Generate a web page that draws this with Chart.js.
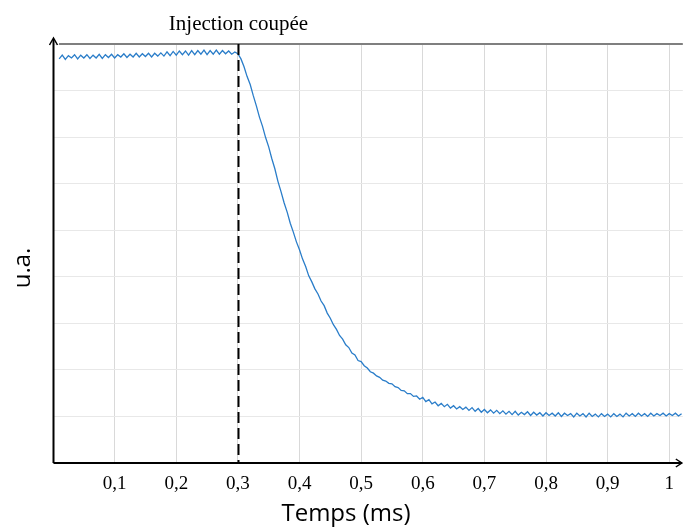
<!DOCTYPE html>
<html>
<head>
<meta charset="utf-8">
<script src="https://cdn.jsdelivr.net/npm/chart.js@4.4.1/dist/chart.umd.min.js"></script>
<style>
    html, body { margin: 0; padding: 0; background: #fff; }
</style>
</head>
<body>
<canvas id="myChart" width="684" height="527"></canvas>
<script>
// signal échantillonné : premier point à t0, un point toutes les dt (ms)
const t0 = 0.01;
const dt = 0.005;

// plateau avant la coupure (0,01 -> 0,30 ms)
const plateau = [
    8.68, 8.76, 8.67, 8.75, 8.70, 8.77, 8.68, 8.76, 8.70, 8.77,
    8.69, 8.76, 8.70, 8.78, 8.69, 8.77, 8.71, 8.78, 8.70, 8.77,
    8.72, 8.79, 8.71, 8.78, 8.72, 8.80, 8.72, 8.79, 8.73, 8.80,
    8.72, 8.80, 8.74, 8.81, 8.74, 8.83, 8.75, 8.84, 8.76, 8.85,
    8.77, 8.85, 8.76, 8.86, 8.77, 8.86, 8.78, 8.87, 8.77, 8.86,
    8.78, 8.87, 8.78, 8.86, 8.79, 8.85, 8.78, 8.83, 8.79
];
// chute (0,305 -> 0,50 ms)
const chute = [
    8.68, 8.51, 8.30, 8.13, 7.89, 7.67, 7.43, 7.23, 6.99, 6.79,
    6.54, 6.32, 6.05, 5.83, 5.59, 5.39, 5.15, 4.96, 4.75, 4.58,
    4.38, 4.22, 4.02, 3.89, 3.74, 3.63, 3.48, 3.38, 3.22, 3.11,
    2.97, 2.87, 2.74, 2.66, 2.54, 2.48, 2.36, 2.32, 2.20, 2.18
];
// fin de la décroissance (0,505 -> 0,70 ms)
const decroissance = [
    2.09, 2.04, 1.96, 1.93, 1.87, 1.84, 1.78, 1.76, 1.71, 1.70,
    1.64, 1.62, 1.56, 1.55, 1.49, 1.49, 1.43, 1.44, 1.37, 1.41,
    1.32, 1.36, 1.27, 1.31, 1.23, 1.28, 1.21, 1.26, 1.18, 1.23,
    1.16, 1.21, 1.15, 1.20, 1.13, 1.19, 1.11, 1.17, 1.09, 1.15
];
// palier final (0,705 -> 1,02 ms)
const palier = [
    1.08, 1.14, 1.07, 1.13, 1.06, 1.12, 1.05, 1.11, 1.04, 1.11,
    1.03, 1.09, 1.04, 1.10, 1.02, 1.09, 1.03, 1.08, 1.01, 1.08,
    1.02, 1.07, 1.01, 1.08, 1.00, 1.07, 1.02, 1.06, 0.99, 1.07,
    1.01, 1.06, 0.99, 1.07, 1.00, 1.05, 0.99, 1.06, 1.00, 1.05,
    0.99, 1.06, 1.00, 1.05, 0.99, 1.07, 1.01, 1.06, 1.00, 1.07,
    1.01, 1.06, 1.00, 1.07, 1.01, 1.06, 1.02, 1.07, 1.01, 1.06,
    1.02, 1.07, 1.01, 1.06
];

const xTickLabels = ['', '0,1', '0,2', '0,3', '0,4', '0,5', '0,6', '0,7', '0,8', '0,9', '1'];
const tCoupure = 0.3;
const xMax = 1.022;
const yMax = 9;

const signal = plateau.concat(chute, decroissance, palier);
const points = signal.map((v, i) => ({ x: +(t0 + i * dt).toFixed(3), y: v }));

// axes fléchés, trait de coupure et textes
const decor = {
    id: 'decor',
    afterDatasetsDraw(chart) {
        const ctx = chart.ctx;
        const area = chart.chartArea;
        const xs = chart.scales.x;
        ctx.save();

        // bord haut gris
        ctx.strokeStyle = '#7f7f7f';
        ctx.lineWidth = 2;
        ctx.beginPath();
        ctx.moveTo(59, area.top);
        ctx.lineTo(area.right, area.top);
        ctx.stroke();

        // coupure de l'injection
        const xc = Math.round(xs.getPixelForValue(tCoupure)) + 0.5;
        ctx.strokeStyle = '#000';
        ctx.lineWidth = 2;
        ctx.setLineDash([11, 5]);
        ctx.beginPath();
        ctx.moveTo(xc, area.top);
        ctx.lineTo(xc, area.bottom);
        ctx.stroke();
        ctx.setLineDash([]);

        // axes
        const x0 = area.left + 0.5;
        const y0 = area.bottom;
        ctx.lineWidth = 2;
        ctx.beginPath();
        ctx.moveTo(x0, y0);
        ctx.lineTo(x0, 39);
        ctx.moveTo(x0, y0);
        ctx.lineTo(area.right - 1, y0);
        ctx.stroke();
        ctx.lineWidth = 1.5;
        ctx.beginPath();
        ctx.moveTo(x0 - 4, 45);
        ctx.lineTo(x0, 38);
        ctx.lineTo(x0 + 4, 45);
        ctx.moveTo(area.right - 7, y0 - 4);
        ctx.lineTo(area.right - 1, y0);
        ctx.lineTo(area.right - 7, y0 + 4);
        ctx.stroke();

        // textes
        ctx.fillStyle = '#000';
        ctx.textAlign = 'center';
        ctx.textBaseline = 'alphabetic';
        ctx.font = '21px "Liberation Serif"';
        ctx.fillText('Injection coupée', xc, 30);

        ctx.font = '24px "Open Sans"';
        ctx.fillText('Temps (ms)', 346, 521);

        ctx.translate(30, 268);
        ctx.rotate(-Math.PI / 2);
        ctx.fillText('u.a.', 0, 0);
        ctx.restore();
    }
};

const ctx = document.getElementById('myChart').getContext('2d');
new Chart(ctx, {
    type: 'line',
    data: {
        datasets: [{
            data: points,
            borderColor: '#2a7dc9',
            borderWidth: 1.3,
            pointRadius: 0,
            tension: 0,
            fill: false
        }]
    },
    options: {
        responsive: false,
        animation: false,
        layout: { padding: { top: 44, right: 0, left: 0, bottom: 0 } },
        plugins: {
            legend: { display: false },
            tooltip: { enabled: false }
        },
        scales: {
            x: {
                type: 'linear',
                min: 0,
                max: xMax,
                afterFit: s => { s.height = 64; },
                border: { display: false },
                grid: { color: '#d9d9d9', lineWidth: 1, drawTicks: false },
                ticks: {
                    stepSize: 0.1,
                    includeBounds: false,
                    autoSkip: false,
                    maxRotation: 0,
                    padding: 10,
                    color: '#000',
                    font: { family: 'Liberation Serif', size: 19 },
                    callback: v => xTickLabels[Math.round(v * 10)] ?? ''
                }
            },
            y: {
                min: 0,
                max: yMax,
                afterFit: s => { s.width = 53; },
                border: { display: false },
                grid: { color: '#e8e8e8', lineWidth: 1, drawTicks: false },
                ticks: { stepSize: 1, display: false }
            }
        }
    },
    plugins: [decor]
});
</script>
</body>
</html>
